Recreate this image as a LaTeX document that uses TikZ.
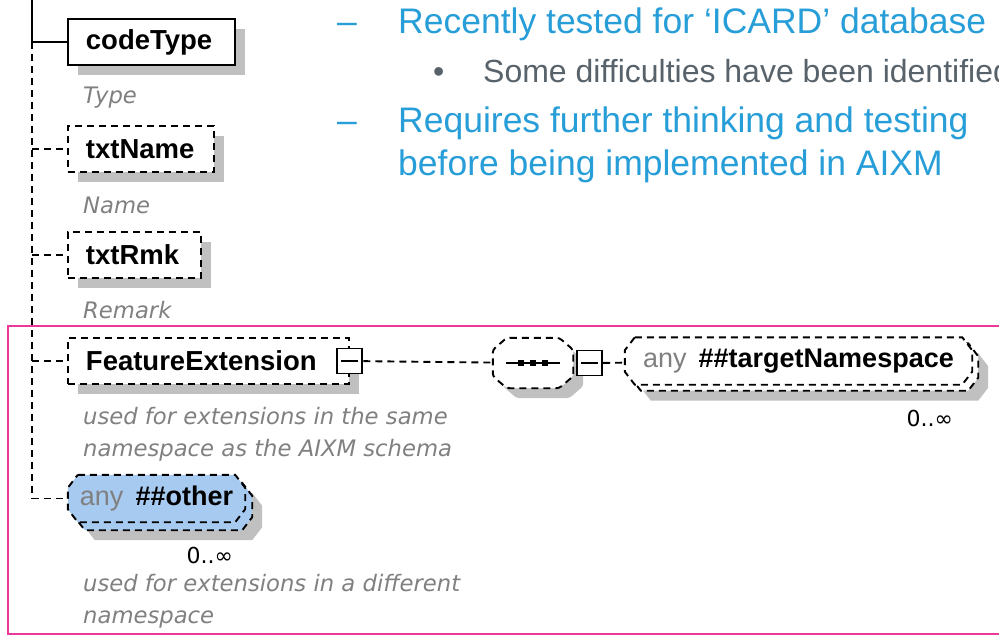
\documentclass[tikz,border=0pt]{standalone}
\usepackage{fontspec}
\setmainfont{Liberation Sans}
\newfontfamily\xsdfont{DejaVu Sans}
\usetikzlibrary{shadows,positioning,backgrounds}

\definecolor{slideblue}{RGB}{40,158,216}
\definecolor{slidegray}{RGB}{88,98,106}
\definecolor{framepink}{RGB}{236,56,150}
\definecolor{shadowgray}{RGB}{192,192,192}
\definecolor{anyblue}{RGB}{166,202,240}
\definecolor{notegray}{RGB}{128,128,128}

\tikzset{
  xsdline/.style={line width=1.9pt},
  optional/.style={dash pattern=on 7pt off 5pt},
  xsdshadow/.style={drop shadow={shadow xshift=10pt, shadow yshift=-10pt, fill=shadowgray, opacity=1}},
  castshadow/.style={fill=shadowgray, transform canvas={xshift=10pt, yshift=-10pt}},
  bluetext/.style={inner sep=0pt, anchor=base west, text=slideblue, font=\fontsize{35.5}{40}\selectfont},
  graytext/.style={inner sep=0pt, anchor=base west, text=slidegray, font=\fontsize{32}{36}\selectfont},
  elem/.style={draw, xsdline, fill=white, xsdshadow, anchor=west, text width=#1, align=left,
    inner xsep=18pt, inner ysep=0pt, minimum height=46pt, font=\fontsize{27.5}{30}\selectfont\bfseries},
  minusbox/.style={draw, xsdline, fill=white, minimum size=25pt, inner sep=0pt,
    path picture={\draw[xsdline] ([xshift=4pt]path picture bounding box.west) -- ([xshift=-4pt]path picture bounding box.east);}},
  wild/.style={minimum width=#1, minimum height=47pt, inner sep=0pt, font=\fontsize{27}{30}\selectfont\bfseries},
  octagon/.style n args={3}{insert path={([xshift=#2]#1.north west) -- ([xshift=-#2]#1.north east)
    -- ([yshift=-#3]#1.north east) -- ([yshift=#3]#1.south east) -- ([xshift=-#2]#1.south east)
    -- ([xshift=#2]#1.south west) -- ([yshift=#3]#1.south west) -- ([yshift=-#3]#1.north west) -- cycle}},
  note/.style={inner sep=0pt, anchor=west, align=left, text=notegray, font=\xsdfont\itshape\fontsize{22.7}{32}\selectfont},
  mult/.style={inner sep=0pt, font=\xsdfont\fontsize{22}{24}\selectfont}
}

\begin{document}
\begin{tikzpicture}[x=1pt,y=-1pt]
\useasboundingbox (0,0) rectangle (999,637);

% slide text
\node[bluetext] (dashA) at (337,33) {–};
\node[bluetext] (lineA) at (398,33) {Recently tested for ‘ICARD’ database};
\node[graytext] (dotB) at (433,82) {•};
\node[graytext] (lineB) at (483,82) {Some difficulties have been identified};
\node[bluetext] (dashC) at (337,132) {–};
\node[bluetext] (lineC) at (398,132) {Requires further thinking and testing};
\node[bluetext] (lineD) at (398,175) {before being implemented in AIXM};

% highlight frame
\draw[framepink, line width=2.2pt] (8,326) rectangle (1012,634);

% elements
\node[elem=131pt] (codeType) at (67,42) {codeType};
\node[elem=110pt, optional] (txtName) at (67,149) {txtName};
\node[elem=97pt, optional] (txtRmk) at (67,255) {txtRmk};
\node[elem=245pt, optional] (FeatureExtension) at (67,361) {FeatureExtension};
\node[minusbox] (fxMinus) at (FeatureExtension.east) {};

\node[note] (codeTypeNote) at (83,98) {Type};
\node[note] (txtNameNote) at (83,205) {Name};
\node[note] (txtRmkNote) at (83,310) {Remark};
\node[note] (fxNote) at (83,434) {used for extensions in the same\\namespace as the AIXM schema};

% sequence and any ##targetNamespace
\node[minimum width=80pt, minimum height=50pt, inner sep=0pt] (seq) at (533,363) {};
\draw[xsdline] ([xshift=-27pt]seq.center) -- ([xshift=27pt]seq.center);
\foreach \dx in {-12,0,12}
  \fill ([xshift=\dx pt]seq.center) +(-3,-3) rectangle +(3,3);
\node[minusbox, right=3pt of seq] (seqMinus) {};
\node[wild=347pt] (targetBack) at (804.5,367) {};
\node[wild=347pt] (target) at (798.5,361) {{\color{notegray}\mdseries any}\hspace{12pt}\#\#targetNamespace};
\node[mult, below left=19pt and 25pt of targetBack.south east] (targetMult) {0..∞};

% any ##other
\node[wild=177pt] (otherBack) at (163.5,506.5) {};
\node[wild=177pt] (other) at (156.5,498.5) {{\color{notegray}\mdseries any}\hspace{12pt}\#\#other};
\node[mult, below left=17pt and 19pt of otherBack.south east] (otherMult) {0..∞};
\node[note] (otherNote) at (83,601) {used for extensions in a different\\namespace};

\begin{pgfonlayer}{background}
  \fill[castshadow, rounded corners=3pt, octagon={seq}{14pt}{12pt}];
  \filldraw[xsdline, optional, fill=white, rounded corners=3pt, octagon={seq}{14pt}{12pt}];
  \fill[castshadow, octagon={targetBack}{10pt}{13pt}];
  \filldraw[xsdline, optional, fill=white, octagon={targetBack}{10pt}{13pt}];
  \filldraw[xsdline, optional, fill=white, octagon={target}{10pt}{13pt}];
  \fill[castshadow, octagon={otherBack}{10pt}{13pt}];
  \filldraw[xsdline, optional, fill=anyblue, octagon={otherBack}{10pt}{13pt}];
  \filldraw[xsdline, optional, fill=anyblue, octagon={other}{10pt}{13pt}];
\end{pgfonlayer}

% connectors
\coordinate (trunk) at (32,0);
\draw[xsdline] (trunk) |- (codeType.west);
\draw[xsdline, optional] (trunk |- codeType.west) |- (other.west);
\foreach \n in {txtName,txtRmk,FeatureExtension}
  \draw[xsdline, optional] (trunk |- \n.west) -- (\n.west);
\draw[xsdline, optional] (fxMinus) -- (seq);
\draw[xsdline, optional] (seqMinus) -- (target);
\end{tikzpicture}
\end{document}
